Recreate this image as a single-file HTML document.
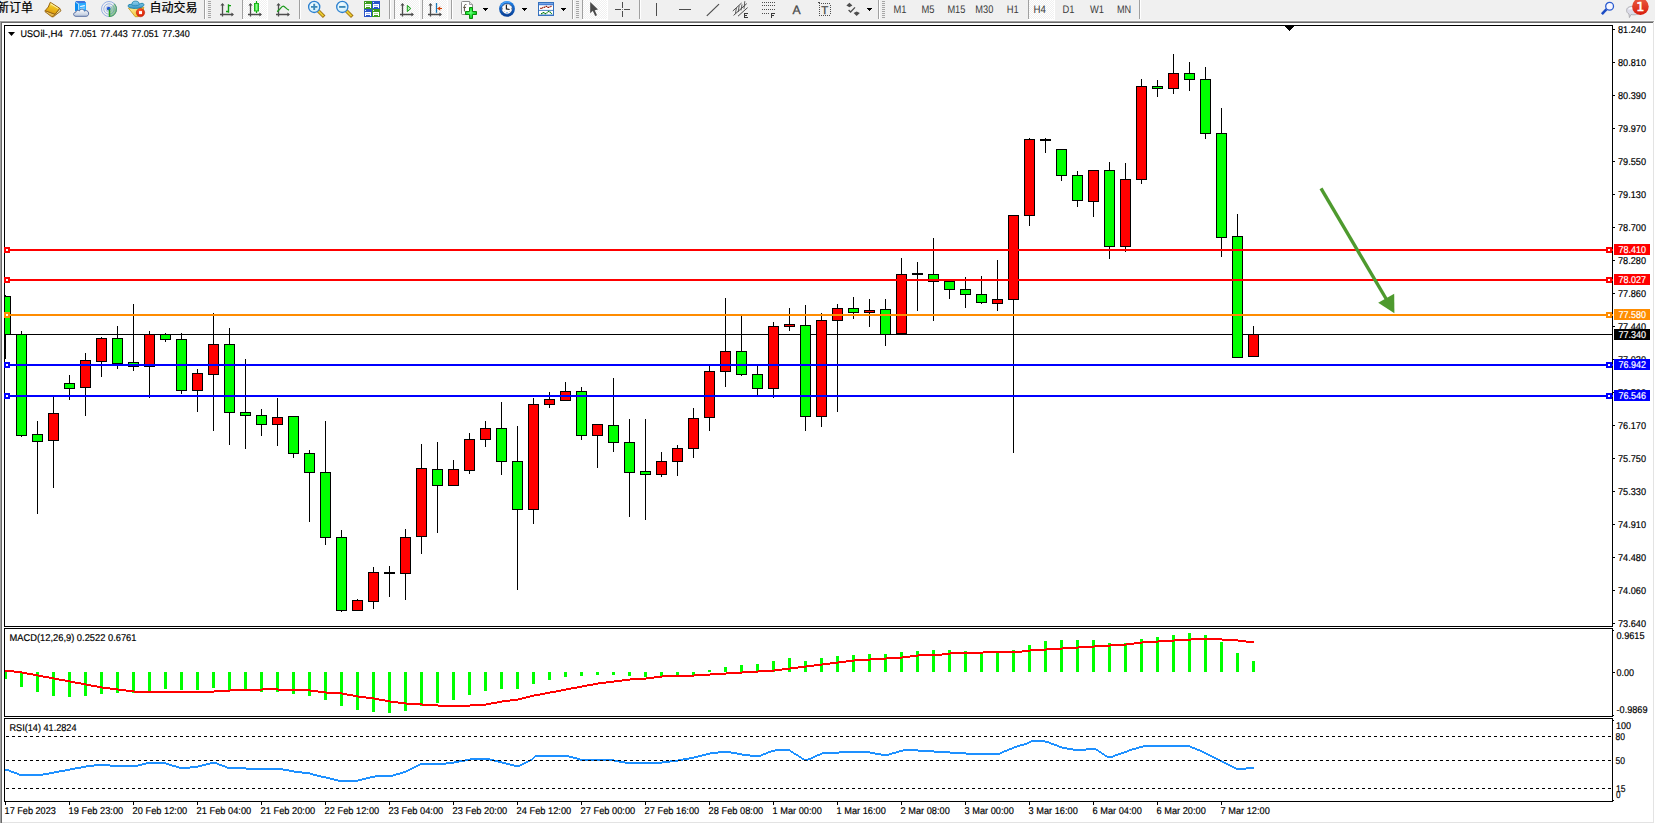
<!DOCTYPE html>
<html lang="zh-CN">
<head>
<meta charset="utf-8">
<title>USOil-,H4</title>
<style>
html,body{margin:0;padding:0;background:#f0f0f0;overflow:hidden}
body{width:1655px;height:824px;position:relative;font-family:"Liberation Sans", "Noto Sans CJK SC", sans-serif}
svg{position:absolute;left:0;top:0;display:block}
text{white-space:pre}
</style>
</head>
<body>
<svg width="1655" height="824" viewBox="0 0 1655 824">
<rect x="0" y="0" width="1655" height="824" fill="#f0f0f0"/>
<g shape-rendering="crispEdges">
<rect x="0" y="20" width="1655" height="1" fill="#f8f8f8"/>
<rect x="0" y="21" width="1654" height="1" fill="#a0a0a0"/>
<rect x="0" y="22" width="1653" height="1" fill="#696969"/>
<rect x="0" y="21" width="1" height="803" fill="#a0a0a0"/>
<rect x="1" y="22" width="1" height="801" fill="#696969"/>
<rect x="1654" y="21" width="1" height="803" fill="#ffffff"/>
<rect x="0" y="823" width="1655" height="1" fill="#ffffff"/>
<rect x="1653" y="22" width="1" height="801" fill="#e3e3e3"/>
<rect x="2" y="822" width="1652" height="1" fill="#e3e3e3"/>
</g>
<g shape-rendering="crispEdges">
<rect x="2" y="23" width="1651" height="799" fill="#fff"/>
<rect x="4" y="25" width="1609" height="1" fill="#000"/>
<rect x="4" y="626" width="1609" height="1" fill="#000"/>
<rect x="4" y="25" width="1" height="602" fill="#000"/>
<rect x="1612" y="25" width="1" height="602" fill="#000"/>
<rect x="4" y="628" width="1609" height="1" fill="#000"/>
<rect x="4" y="716" width="1609" height="1" fill="#000"/>
<rect x="4" y="628" width="1" height="89" fill="#000"/>
<rect x="1612" y="628" width="1" height="89" fill="#000"/>
<rect x="4" y="718" width="1609" height="1" fill="#000"/>
<rect x="4" y="801" width="1609" height="1" fill="#000"/>
<rect x="4" y="718" width="1" height="84" fill="#000"/>
<rect x="1612" y="718" width="1" height="84" fill="#000"/>
<rect x="1285" y="26" width="9" height="1" fill="#000"/>
<rect x="1286" y="27" width="7" height="1" fill="#000"/>
<rect x="1287" y="28" width="5" height="1" fill="#000"/>
<rect x="1288" y="29" width="3" height="1" fill="#000"/>
<rect x="1289" y="30" width="1" height="1" fill="#000"/>
<rect x="4" y="334" width="1609" height="1" fill="#000"/>
<g id="candles">
<rect x="5" y="295" width="1" height="64" fill="#000"/>
<rect x="0" y="296" width="11" height="39" fill="#000"/>
<rect x="1" y="297" width="9" height="37" fill="#00ff00"/>
<rect x="21" y="331" width="1" height="106" fill="#000"/>
<rect x="16" y="334" width="11" height="102" fill="#000"/>
<rect x="17" y="335" width="9" height="100" fill="#00ff00"/>
<rect x="37" y="421" width="1" height="93" fill="#000"/>
<rect x="32" y="434" width="11" height="8" fill="#000"/>
<rect x="33" y="435" width="9" height="6" fill="#00ff00"/>
<rect x="53" y="397" width="1" height="91" fill="#000"/>
<rect x="48" y="413" width="11" height="28" fill="#000"/>
<rect x="49" y="414" width="9" height="26" fill="#ff0000"/>
<rect x="69" y="375" width="1" height="25" fill="#000"/>
<rect x="64" y="383" width="11" height="6" fill="#000"/>
<rect x="65" y="384" width="9" height="4" fill="#00ff00"/>
<rect x="85" y="353" width="1" height="63" fill="#000"/>
<rect x="80" y="360" width="11" height="28" fill="#000"/>
<rect x="81" y="361" width="9" height="26" fill="#ff0000"/>
<rect x="101" y="337" width="1" height="40" fill="#000"/>
<rect x="96" y="338" width="11" height="24" fill="#000"/>
<rect x="97" y="339" width="9" height="22" fill="#ff0000"/>
<rect x="117" y="326" width="1" height="43" fill="#000"/>
<rect x="112" y="338" width="11" height="26" fill="#000"/>
<rect x="113" y="339" width="9" height="24" fill="#00ff00"/>
<rect x="133" y="304" width="1" height="67" fill="#000"/>
<rect x="128" y="362" width="11" height="5" fill="#000"/>
<rect x="129" y="363" width="9" height="3" fill="#00ff00"/>
<rect x="149" y="331" width="1" height="67" fill="#000"/>
<rect x="144" y="334" width="11" height="33" fill="#000"/>
<rect x="145" y="335" width="9" height="31" fill="#ff0000"/>
<rect x="165" y="333" width="1" height="9" fill="#000"/>
<rect x="160" y="334" width="11" height="6" fill="#000"/>
<rect x="161" y="335" width="9" height="4" fill="#00ff00"/>
<rect x="181" y="333" width="1" height="61" fill="#000"/>
<rect x="176" y="339" width="11" height="52" fill="#000"/>
<rect x="177" y="340" width="9" height="50" fill="#00ff00"/>
<rect x="197" y="369" width="1" height="43" fill="#000"/>
<rect x="192" y="373" width="11" height="18" fill="#000"/>
<rect x="193" y="374" width="9" height="16" fill="#ff0000"/>
<rect x="213" y="313" width="1" height="118" fill="#000"/>
<rect x="208" y="344" width="11" height="31" fill="#000"/>
<rect x="209" y="345" width="9" height="29" fill="#ff0000"/>
<rect x="229" y="328" width="1" height="117" fill="#000"/>
<rect x="224" y="344" width="11" height="69" fill="#000"/>
<rect x="225" y="345" width="9" height="67" fill="#00ff00"/>
<rect x="245" y="359" width="1" height="90" fill="#000"/>
<rect x="240" y="412" width="11" height="4" fill="#000"/>
<rect x="241" y="413" width="9" height="2" fill="#00ff00"/>
<rect x="261" y="409" width="1" height="27" fill="#000"/>
<rect x="256" y="415" width="11" height="10" fill="#000"/>
<rect x="257" y="416" width="9" height="8" fill="#00ff00"/>
<rect x="277" y="398" width="1" height="48" fill="#000"/>
<rect x="272" y="417" width="11" height="8" fill="#000"/>
<rect x="273" y="418" width="9" height="6" fill="#ff0000"/>
<rect x="293" y="416" width="1" height="42" fill="#000"/>
<rect x="288" y="416" width="11" height="38" fill="#000"/>
<rect x="289" y="417" width="9" height="36" fill="#00ff00"/>
<rect x="309" y="450" width="1" height="72" fill="#000"/>
<rect x="304" y="453" width="11" height="20" fill="#000"/>
<rect x="305" y="454" width="9" height="18" fill="#00ff00"/>
<rect x="325" y="421" width="1" height="124" fill="#000"/>
<rect x="320" y="472" width="11" height="66" fill="#000"/>
<rect x="321" y="473" width="9" height="64" fill="#00ff00"/>
<rect x="341" y="530" width="1" height="82" fill="#000"/>
<rect x="336" y="537" width="11" height="74" fill="#000"/>
<rect x="337" y="538" width="9" height="72" fill="#00ff00"/>
<rect x="357" y="599" width="1" height="12" fill="#000"/>
<rect x="352" y="600" width="11" height="11" fill="#000"/>
<rect x="353" y="601" width="9" height="9" fill="#ff0000"/>
<rect x="373" y="567" width="1" height="42" fill="#000"/>
<rect x="368" y="572" width="11" height="30" fill="#000"/>
<rect x="369" y="573" width="9" height="28" fill="#ff0000"/>
<rect x="389" y="566" width="1" height="31" fill="#000"/>
<rect x="384" y="572" width="11" height="2" fill="#000"/>
<rect x="405" y="529" width="1" height="71" fill="#000"/>
<rect x="400" y="537" width="11" height="37" fill="#000"/>
<rect x="401" y="538" width="9" height="35" fill="#ff0000"/>
<rect x="421" y="444" width="1" height="110" fill="#000"/>
<rect x="416" y="468" width="11" height="69" fill="#000"/>
<rect x="417" y="469" width="9" height="67" fill="#ff0000"/>
<rect x="437" y="442" width="1" height="91" fill="#000"/>
<rect x="432" y="469" width="11" height="17" fill="#000"/>
<rect x="433" y="470" width="9" height="15" fill="#00ff00"/>
<rect x="453" y="460" width="1" height="26" fill="#000"/>
<rect x="448" y="469" width="11" height="17" fill="#000"/>
<rect x="449" y="470" width="9" height="15" fill="#ff0000"/>
<rect x="469" y="433" width="1" height="41" fill="#000"/>
<rect x="464" y="439" width="11" height="32" fill="#000"/>
<rect x="465" y="440" width="9" height="30" fill="#ff0000"/>
<rect x="485" y="421" width="1" height="26" fill="#000"/>
<rect x="480" y="428" width="11" height="12" fill="#000"/>
<rect x="481" y="429" width="9" height="10" fill="#ff0000"/>
<rect x="501" y="402" width="1" height="73" fill="#000"/>
<rect x="496" y="428" width="11" height="34" fill="#000"/>
<rect x="497" y="429" width="9" height="32" fill="#00ff00"/>
<rect x="517" y="426" width="1" height="164" fill="#000"/>
<rect x="512" y="461" width="11" height="49" fill="#000"/>
<rect x="513" y="462" width="9" height="47" fill="#00ff00"/>
<rect x="533" y="398" width="1" height="126" fill="#000"/>
<rect x="528" y="404" width="11" height="106" fill="#000"/>
<rect x="529" y="405" width="9" height="104" fill="#ff0000"/>
<rect x="549" y="392" width="1" height="16" fill="#000"/>
<rect x="544" y="399" width="11" height="6" fill="#000"/>
<rect x="545" y="400" width="9" height="4" fill="#ff0000"/>
<rect x="565" y="382" width="1" height="19" fill="#000"/>
<rect x="560" y="391" width="11" height="10" fill="#000"/>
<rect x="561" y="392" width="9" height="8" fill="#ff0000"/>
<rect x="581" y="387" width="1" height="53" fill="#000"/>
<rect x="576" y="391" width="11" height="45" fill="#000"/>
<rect x="577" y="392" width="9" height="43" fill="#00ff00"/>
<rect x="597" y="424" width="1" height="44" fill="#000"/>
<rect x="592" y="424" width="11" height="12" fill="#000"/>
<rect x="593" y="425" width="9" height="10" fill="#ff0000"/>
<rect x="613" y="378" width="1" height="74" fill="#000"/>
<rect x="608" y="425" width="11" height="18" fill="#000"/>
<rect x="609" y="426" width="9" height="16" fill="#00ff00"/>
<rect x="629" y="419" width="1" height="98" fill="#000"/>
<rect x="624" y="442" width="11" height="31" fill="#000"/>
<rect x="625" y="443" width="9" height="29" fill="#00ff00"/>
<rect x="645" y="419" width="1" height="101" fill="#000"/>
<rect x="640" y="471" width="11" height="4" fill="#000"/>
<rect x="641" y="472" width="9" height="2" fill="#00ff00"/>
<rect x="661" y="452" width="1" height="25" fill="#000"/>
<rect x="656" y="461" width="11" height="14" fill="#000"/>
<rect x="657" y="462" width="9" height="12" fill="#ff0000"/>
<rect x="677" y="445" width="1" height="31" fill="#000"/>
<rect x="672" y="448" width="11" height="14" fill="#000"/>
<rect x="673" y="449" width="9" height="12" fill="#ff0000"/>
<rect x="693" y="408" width="1" height="50" fill="#000"/>
<rect x="688" y="418" width="11" height="31" fill="#000"/>
<rect x="689" y="419" width="9" height="29" fill="#ff0000"/>
<rect x="709" y="366" width="1" height="65" fill="#000"/>
<rect x="704" y="371" width="11" height="47" fill="#000"/>
<rect x="705" y="372" width="9" height="45" fill="#ff0000"/>
<rect x="725" y="298" width="1" height="89" fill="#000"/>
<rect x="720" y="351" width="11" height="21" fill="#000"/>
<rect x="721" y="352" width="9" height="19" fill="#ff0000"/>
<rect x="741" y="316" width="1" height="60" fill="#000"/>
<rect x="736" y="351" width="11" height="24" fill="#000"/>
<rect x="737" y="352" width="9" height="22" fill="#00ff00"/>
<rect x="757" y="366" width="1" height="29" fill="#000"/>
<rect x="752" y="374" width="11" height="15" fill="#000"/>
<rect x="753" y="375" width="9" height="13" fill="#00ff00"/>
<rect x="773" y="322" width="1" height="76" fill="#000"/>
<rect x="768" y="326" width="11" height="63" fill="#000"/>
<rect x="769" y="327" width="9" height="61" fill="#ff0000"/>
<rect x="789" y="308" width="1" height="23" fill="#000"/>
<rect x="784" y="324" width="11" height="3" fill="#000"/>
<rect x="785" y="325" width="9" height="1" fill="#ff0000"/>
<rect x="805" y="305" width="1" height="126" fill="#000"/>
<rect x="800" y="325" width="11" height="92" fill="#000"/>
<rect x="801" y="326" width="9" height="90" fill="#00ff00"/>
<rect x="821" y="313" width="1" height="114" fill="#000"/>
<rect x="816" y="320" width="11" height="97" fill="#000"/>
<rect x="817" y="321" width="9" height="95" fill="#ff0000"/>
<rect x="837" y="304" width="1" height="108" fill="#000"/>
<rect x="832" y="308" width="11" height="13" fill="#000"/>
<rect x="833" y="309" width="9" height="11" fill="#ff0000"/>
<rect x="853" y="297" width="1" height="22" fill="#000"/>
<rect x="848" y="308" width="11" height="5" fill="#000"/>
<rect x="849" y="309" width="9" height="3" fill="#00ff00"/>
<rect x="869" y="299" width="1" height="28" fill="#000"/>
<rect x="864" y="310" width="11" height="3" fill="#000"/>
<rect x="865" y="311" width="9" height="1" fill="#ff0000"/>
<rect x="885" y="299" width="1" height="47" fill="#000"/>
<rect x="880" y="309" width="11" height="26" fill="#000"/>
<rect x="881" y="310" width="9" height="24" fill="#00ff00"/>
<rect x="901" y="258" width="1" height="76" fill="#000"/>
<rect x="896" y="274" width="11" height="60" fill="#000"/>
<rect x="897" y="275" width="9" height="58" fill="#ff0000"/>
<rect x="917" y="262" width="1" height="49" fill="#000"/>
<rect x="912" y="273" width="11" height="2" fill="#000"/>
<rect x="933" y="238" width="1" height="83" fill="#000"/>
<rect x="928" y="274" width="11" height="8" fill="#000"/>
<rect x="929" y="275" width="9" height="6" fill="#00ff00"/>
<rect x="949" y="281" width="1" height="18" fill="#000"/>
<rect x="944" y="281" width="11" height="9" fill="#000"/>
<rect x="945" y="282" width="9" height="7" fill="#00ff00"/>
<rect x="965" y="277" width="1" height="31" fill="#000"/>
<rect x="960" y="289" width="11" height="6" fill="#000"/>
<rect x="961" y="290" width="9" height="4" fill="#00ff00"/>
<rect x="981" y="276" width="1" height="28" fill="#000"/>
<rect x="976" y="294" width="11" height="9" fill="#000"/>
<rect x="977" y="295" width="9" height="7" fill="#00ff00"/>
<rect x="997" y="260" width="1" height="51" fill="#000"/>
<rect x="992" y="299" width="11" height="5" fill="#000"/>
<rect x="993" y="300" width="9" height="3" fill="#ff0000"/>
<rect x="1013" y="215" width="1" height="238" fill="#000"/>
<rect x="1008" y="215" width="11" height="85" fill="#000"/>
<rect x="1009" y="216" width="9" height="83" fill="#ff0000"/>
<rect x="1029" y="138" width="1" height="88" fill="#000"/>
<rect x="1024" y="139" width="11" height="77" fill="#000"/>
<rect x="1025" y="140" width="9" height="75" fill="#ff0000"/>
<rect x="1045" y="138" width="1" height="15" fill="#000"/>
<rect x="1040" y="139" width="11" height="2" fill="#000"/>
<rect x="1061" y="149" width="1" height="32" fill="#000"/>
<rect x="1056" y="149" width="11" height="27" fill="#000"/>
<rect x="1057" y="150" width="9" height="25" fill="#00ff00"/>
<rect x="1077" y="171" width="1" height="36" fill="#000"/>
<rect x="1072" y="175" width="11" height="26" fill="#000"/>
<rect x="1073" y="176" width="9" height="24" fill="#00ff00"/>
<rect x="1093" y="170" width="1" height="47" fill="#000"/>
<rect x="1088" y="170" width="11" height="32" fill="#000"/>
<rect x="1089" y="171" width="9" height="30" fill="#ff0000"/>
<rect x="1109" y="162" width="1" height="97" fill="#000"/>
<rect x="1104" y="170" width="11" height="77" fill="#000"/>
<rect x="1105" y="171" width="9" height="75" fill="#00ff00"/>
<rect x="1125" y="163" width="1" height="89" fill="#000"/>
<rect x="1120" y="179" width="11" height="68" fill="#000"/>
<rect x="1121" y="180" width="9" height="66" fill="#ff0000"/>
<rect x="1141" y="79" width="1" height="105" fill="#000"/>
<rect x="1136" y="86" width="11" height="94" fill="#000"/>
<rect x="1137" y="87" width="9" height="92" fill="#ff0000"/>
<rect x="1157" y="80" width="1" height="17" fill="#000"/>
<rect x="1152" y="86" width="11" height="3" fill="#000"/>
<rect x="1153" y="87" width="9" height="1" fill="#00ff00"/>
<rect x="1173" y="54" width="1" height="40" fill="#000"/>
<rect x="1168" y="73" width="11" height="16" fill="#000"/>
<rect x="1169" y="74" width="9" height="14" fill="#ff0000"/>
<rect x="1189" y="62" width="1" height="29" fill="#000"/>
<rect x="1184" y="73" width="11" height="7" fill="#000"/>
<rect x="1185" y="74" width="9" height="5" fill="#00ff00"/>
<rect x="1205" y="67" width="1" height="72" fill="#000"/>
<rect x="1200" y="79" width="11" height="55" fill="#000"/>
<rect x="1201" y="80" width="9" height="53" fill="#00ff00"/>
<rect x="1221" y="108" width="1" height="149" fill="#000"/>
<rect x="1216" y="133" width="11" height="105" fill="#000"/>
<rect x="1217" y="134" width="9" height="103" fill="#00ff00"/>
<rect x="1237" y="214" width="1" height="144" fill="#000"/>
<rect x="1232" y="236" width="11" height="122" fill="#000"/>
<rect x="1233" y="237" width="9" height="120" fill="#00ff00"/>
<rect x="1253" y="326" width="1" height="31" fill="#000"/>
<rect x="1248" y="334" width="11" height="23" fill="#000"/>
<rect x="1249" y="335" width="9" height="21" fill="#ff0000"/>
</g>
<rect x="2" y="26" width="2" height="600" fill="#fff"/>
<rect x="0" y="26" width="1" height="600" fill="#a0a0a0"/>
<rect x="1" y="26" width="1" height="600" fill="#696969"/>
<rect x="4" y="25" width="1" height="602" fill="#000"/>
<rect x="4" y="249" width="1609" height="2" fill="#ff0000"/>
<rect x="4" y="247" width="6" height="6" fill="#ff0000"/>
<rect x="6" y="249" width="2" height="2" fill="#fff"/>
<rect x="1606" y="247" width="6" height="6" fill="#ff0000"/>
<rect x="1608" y="249" width="2" height="2" fill="#fff"/>
<rect x="4" y="279" width="1609" height="2" fill="#ff0000"/>
<rect x="4" y="277" width="6" height="6" fill="#ff0000"/>
<rect x="6" y="279" width="2" height="2" fill="#fff"/>
<rect x="1606" y="277" width="6" height="6" fill="#ff0000"/>
<rect x="1608" y="279" width="2" height="2" fill="#fff"/>
<rect x="4" y="314" width="1609" height="2" fill="#ff8c00"/>
<rect x="4" y="312" width="6" height="6" fill="#ff8c00"/>
<rect x="6" y="314" width="2" height="2" fill="#fff"/>
<rect x="1606" y="312" width="6" height="6" fill="#ff8c00"/>
<rect x="1608" y="314" width="2" height="2" fill="#fff"/>
<rect x="4" y="364" width="1609" height="2" fill="#0000ff"/>
<rect x="4" y="362" width="6" height="6" fill="#0000ff"/>
<rect x="6" y="364" width="2" height="2" fill="#fff"/>
<rect x="1606" y="362" width="6" height="6" fill="#0000ff"/>
<rect x="1608" y="364" width="2" height="2" fill="#fff"/>
<rect x="4" y="395" width="1609" height="2" fill="#0000ff"/>
<rect x="4" y="393" width="6" height="6" fill="#0000ff"/>
<rect x="6" y="395" width="2" height="2" fill="#fff"/>
<rect x="1606" y="393" width="6" height="6" fill="#0000ff"/>
<rect x="1608" y="395" width="2" height="2" fill="#fff"/>
<g id="macd">
<rect x="4" y="672" width="3" height="7" fill="#00ff00"/>
<rect x="20" y="672" width="3" height="15" fill="#00ff00"/>
<rect x="36" y="672" width="3" height="20" fill="#00ff00"/>
<rect x="52" y="672" width="3" height="24" fill="#00ff00"/>
<rect x="68" y="672" width="3" height="25" fill="#00ff00"/>
<rect x="84" y="672" width="3" height="24" fill="#00ff00"/>
<rect x="100" y="672" width="3" height="22" fill="#00ff00"/>
<rect x="116" y="672" width="3" height="21" fill="#00ff00"/>
<rect x="132" y="672" width="3" height="21" fill="#00ff00"/>
<rect x="148" y="672" width="3" height="19" fill="#00ff00"/>
<rect x="164" y="672" width="3" height="17" fill="#00ff00"/>
<rect x="180" y="672" width="3" height="18" fill="#00ff00"/>
<rect x="196" y="672" width="3" height="18" fill="#00ff00"/>
<rect x="212" y="672" width="3" height="16" fill="#00ff00"/>
<rect x="228" y="672" width="3" height="19" fill="#00ff00"/>
<rect x="244" y="672" width="3" height="19" fill="#00ff00"/>
<rect x="260" y="672" width="3" height="20" fill="#00ff00"/>
<rect x="276" y="672" width="3" height="20" fill="#00ff00"/>
<rect x="292" y="672" width="3" height="22" fill="#00ff00"/>
<rect x="308" y="672" width="3" height="24" fill="#00ff00"/>
<rect x="324" y="672" width="3" height="28" fill="#00ff00"/>
<rect x="340" y="672" width="3" height="34" fill="#00ff00"/>
<rect x="356" y="672" width="3" height="38" fill="#00ff00"/>
<rect x="372" y="672" width="3" height="40" fill="#00ff00"/>
<rect x="388" y="672" width="3" height="41" fill="#00ff00"/>
<rect x="404" y="672" width="3" height="39" fill="#00ff00"/>
<rect x="420" y="672" width="3" height="34" fill="#00ff00"/>
<rect x="436" y="672" width="3" height="31" fill="#00ff00"/>
<rect x="452" y="672" width="3" height="28" fill="#00ff00"/>
<rect x="468" y="672" width="3" height="23" fill="#00ff00"/>
<rect x="484" y="672" width="3" height="19" fill="#00ff00"/>
<rect x="500" y="672" width="3" height="17" fill="#00ff00"/>
<rect x="516" y="672" width="3" height="17" fill="#00ff00"/>
<rect x="532" y="672" width="3" height="12" fill="#00ff00"/>
<rect x="548" y="672" width="3" height="8" fill="#00ff00"/>
<rect x="564" y="672" width="3" height="5" fill="#00ff00"/>
<rect x="580" y="672" width="3" height="4" fill="#00ff00"/>
<rect x="596" y="672" width="3" height="3" fill="#00ff00"/>
<rect x="612" y="672" width="3" height="3" fill="#00ff00"/>
<rect x="628" y="672" width="3" height="4" fill="#00ff00"/>
<rect x="644" y="672" width="3" height="5" fill="#00ff00"/>
<rect x="660" y="672" width="3" height="4" fill="#00ff00"/>
<rect x="676" y="672" width="3" height="3" fill="#00ff00"/>
<rect x="692" y="672" width="3" height="3" fill="#00ff00"/>
<rect x="708" y="670" width="3" height="2" fill="#00ff00"/>
<rect x="724" y="667" width="3" height="5" fill="#00ff00"/>
<rect x="740" y="665" width="3" height="7" fill="#00ff00"/>
<rect x="756" y="664" width="3" height="8" fill="#00ff00"/>
<rect x="772" y="661" width="3" height="11" fill="#00ff00"/>
<rect x="788" y="658" width="3" height="14" fill="#00ff00"/>
<rect x="804" y="661" width="3" height="11" fill="#00ff00"/>
<rect x="820" y="658" width="3" height="14" fill="#00ff00"/>
<rect x="836" y="656" width="3" height="16" fill="#00ff00"/>
<rect x="852" y="655" width="3" height="17" fill="#00ff00"/>
<rect x="868" y="654" width="3" height="18" fill="#00ff00"/>
<rect x="884" y="654" width="3" height="18" fill="#00ff00"/>
<rect x="900" y="652" width="3" height="20" fill="#00ff00"/>
<rect x="916" y="651" width="3" height="21" fill="#00ff00"/>
<rect x="932" y="650" width="3" height="22" fill="#00ff00"/>
<rect x="948" y="650" width="3" height="22" fill="#00ff00"/>
<rect x="964" y="651" width="3" height="21" fill="#00ff00"/>
<rect x="980" y="653" width="3" height="19" fill="#00ff00"/>
<rect x="996" y="653" width="3" height="19" fill="#00ff00"/>
<rect x="1012" y="650" width="3" height="22" fill="#00ff00"/>
<rect x="1028" y="645" width="3" height="27" fill="#00ff00"/>
<rect x="1044" y="641" width="3" height="31" fill="#00ff00"/>
<rect x="1060" y="640" width="3" height="32" fill="#00ff00"/>
<rect x="1076" y="640" width="3" height="32" fill="#00ff00"/>
<rect x="1092" y="640" width="3" height="32" fill="#00ff00"/>
<rect x="1108" y="643" width="3" height="29" fill="#00ff00"/>
<rect x="1124" y="643" width="3" height="29" fill="#00ff00"/>
<rect x="1140" y="639" width="3" height="33" fill="#00ff00"/>
<rect x="1156" y="637" width="3" height="35" fill="#00ff00"/>
<rect x="1172" y="635" width="3" height="37" fill="#00ff00"/>
<rect x="1188" y="633" width="3" height="39" fill="#00ff00"/>
<rect x="1204" y="635" width="3" height="37" fill="#00ff00"/>
<rect x="1220" y="642" width="3" height="30" fill="#00ff00"/>
<rect x="1236" y="653" width="3" height="19" fill="#00ff00"/>
<rect x="1252" y="661" width="3" height="11" fill="#00ff00"/>
</g>
<path d="M5 670h9v2h-9zM14 671h8v2h-8zM22 672h5v2h-5zM27 673h6v2h-6zM33 674h5v2h-5zM38 675h5v2h-5zM43 676h6v2h-6zM49 677h5v2h-5zM54 678h5v2h-5zM59 679h6v2h-6zM65 680h5v2h-5zM70 681h5v2h-5zM75 682h6v2h-6zM81 683h5v2h-5zM86 684h5v2h-5zM91 685h6v2h-6zM97 686h5v2h-5zM102 687h8v2h-8zM110 688h8v2h-8zM118 689h8v2h-8zM126 690h8v2h-8zM134 691h80v2h-80zM214 690h16v2h-16zM230 689h32v2h-32zM262 688h16v2h-16zM278 689h32v2h-32zM310 690h8v2h-8zM318 691h8v2h-8zM326 692h16v2h-16zM342 693h5v2h-5zM347 694h6v2h-6zM353 695h5v2h-5zM358 696h8v2h-8zM366 697h8v2h-8zM374 698h5v2h-5zM379 699h6v2h-6zM385 700h5v2h-5zM390 701h8v2h-8zM398 702h8v2h-8zM406 703h16v2h-16zM422 704h16v2h-16zM438 705h32v2h-32zM470 704h16v2h-16zM486 703h5v2h-5zM491 702h6v2h-6zM497 701h5v2h-5zM502 700h8v2h-8zM510 699h8v2h-8zM518 698h4v2h-4zM522 697h4v2h-4zM526 696h4v2h-4zM530 695h4v2h-4zM534 694h6v2h-6zM540 693h5v2h-5zM545 692h5v2h-5zM550 691h6v2h-6zM556 690h5v2h-5zM561 689h5v2h-5zM566 688h5v2h-5zM571 687h6v2h-6zM577 686h5v2h-5zM582 685h5v2h-5zM587 684h6v2h-6zM593 683h5v2h-5zM598 682h8v2h-8zM606 681h8v2h-8zM614 680h8v2h-8zM622 679h8v2h-8zM630 678h16v2h-16zM646 677h8v2h-8zM654 676h8v2h-8zM662 675h32v2h-32zM694 674h16v2h-16zM710 673h16v2h-16zM726 672h16v2h-16zM742 671h16v2h-16zM758 670h16v2h-16zM774 669h8v2h-8zM782 668h8v2h-8zM790 667h8v2h-8zM798 666h8v2h-8zM806 665h8v2h-8zM814 664h8v2h-8zM822 663h8v2h-8zM830 662h8v2h-8zM838 661h8v2h-8zM846 660h8v2h-8zM854 659h16v2h-16zM870 658h16v2h-16zM886 657h16v2h-16zM902 656h8v2h-8zM910 655h8v2h-8zM918 654h24v2h-24zM942 653h8v2h-8zM950 652h33v2h-33zM983 651h39v2h-39zM1022 650h8v2h-8zM1030 649h16v2h-16zM1046 648h16v2h-16zM1062 647h16v2h-16zM1078 646h16v2h-16zM1094 645h16v2h-16zM1110 644h16v2h-16zM1126 643h8v2h-8zM1134 642h8v2h-8zM1142 641h16v2h-16zM1158 640h16v2h-16zM1174 639h17v2h-17zM1191 638h31v2h-31zM1222 639h16v2h-16zM1238 640h8v2h-8zM1246 641h8v2h-8z" fill="#ff0000"/>
<path d="M5 769h4v2h-4zM9 770h2v2h-2zM11 771h3v2h-3zM14 772h3v2h-3zM17 773h2v2h-2zM19 774h24v2h-24zM43 773h6v2h-6zM49 772h5v2h-5zM54 771h5v2h-5zM59 770h6v2h-6zM65 769h5v2h-5zM70 768h5v2h-5zM75 767h6v2h-6zM81 766h5v2h-5zM86 765h8v2h-8zM94 764h16v2h-16zM110 765h28v2h-28zM138 764h4v2h-4zM142 763h4v2h-4zM146 762h20v2h-20zM166 763h3v2h-3zM169 764h3v2h-3zM172 765h4v2h-4zM176 766h3v2h-3zM179 767h11v2h-11zM190 766h8v2h-8zM198 765h4v2h-4zM202 764h4v2h-4zM206 763h4v2h-4zM210 762h7v2h-7zM217 763h2v2h-2zM219 764h3v2h-3zM222 765h3v2h-3zM225 766h2v2h-2zM227 767h19v2h-19zM246 768h37v2h-37zM283 769h6v2h-6zM289 770h5v2h-5zM294 771h8v2h-8zM302 772h8v2h-8zM310 773h3v2h-3zM313 774h4v2h-4zM317 775h4v2h-4zM321 776h5v2h-5zM326 777h4v2h-4zM330 778h4v2h-4zM334 779h4v2h-4zM338 780h20v2h-20zM358 779h4v2h-4zM362 778h4v2h-4zM366 777h4v2h-4zM370 776h5v2h-5zM375 775h18v2h-18zM393 774h3v2h-3zM396 773h4v2h-4zM400 772h3v2h-3zM403 771h3v2h-3zM406 770h2v2h-2zM408 769h2v2h-2zM410 768h2v2h-2zM412 767h2v2h-2zM414 766h2v2h-2zM416 765h2v2h-2zM418 764h2v2h-2zM420 763h26v2h-26zM446 762h8v2h-8zM454 761h5v2h-5zM459 760h6v2h-6zM465 759h5v2h-5zM470 758h20v2h-20zM490 759h4v2h-4zM494 760h4v2h-4zM498 761h4v2h-4zM502 762h4v2h-4zM506 763h4v2h-4zM510 764h4v2h-4zM514 765h6v2h-6zM520 764h2v2h-2zM522 763h2v2h-2zM524 762h2v2h-2zM526 761h2v2h-2zM528 760h2v2h-2zM530 759h2v2h-2zM532 758h1v2h-1zM533 757h1v2h-1zM534 756h1v2h-1zM535 755h34v2h-34zM569 756h4v2h-4zM573 757h4v2h-4zM577 758h3v2h-3zM580 759h34v2h-34zM614 760h5v2h-5zM619 761h6v2h-6zM625 762h37v2h-37zM662 761h8v2h-8zM670 760h8v2h-8zM678 759h5v2h-5zM683 758h6v2h-6zM689 757h5v2h-5zM694 756h4v2h-4zM698 755h4v2h-4zM702 754h4v2h-4zM706 753h4v2h-4zM710 752h8v2h-8zM718 751h13v2h-13zM731 752h6v2h-6zM737 753h5v2h-5zM742 754h8v2h-8zM750 755h11v2h-11zM761 754h2v2h-2zM763 753h3v2h-3zM766 752h2v2h-2zM768 751h3v2h-3zM771 750h4v2h-4zM775 749h15v2h-15zM790 750h1v2h-1zM791 751h2v2h-2zM793 752h1v2h-1zM794 753h2v2h-2zM796 754h2v2h-2zM798 755h1v2h-1zM799 756h2v2h-2zM801 757h1v2h-1zM802 758h2v2h-2zM804 759h4v2h-4zM808 758h3v2h-3zM811 757h2v2h-2zM813 756h2v2h-2zM815 755h2v2h-2zM817 754h3v2h-3zM820 753h2v2h-2zM822 752h17v2h-17zM839 751h31v2h-31zM870 752h5v2h-5zM875 753h6v2h-6zM881 754h8v2h-8zM889 753h3v2h-3zM892 752h4v2h-4zM896 751h3v2h-3zM899 750h4v2h-4zM903 749h15v2h-15zM918 750h16v2h-16zM934 751h16v2h-16zM950 752h16v2h-16zM966 753h34v2h-34zM1000 752h2v2h-2zM1002 751h2v2h-2zM1004 750h3v2h-3zM1007 749h2v2h-2zM1009 748h3v2h-3zM1012 747h2v2h-2zM1014 746h3v2h-3zM1017 745h3v2h-3zM1020 744h4v2h-4zM1024 743h3v2h-3zM1027 742h2v2h-2zM1029 741h2v2h-2zM1031 740h14v2h-14zM1045 741h4v2h-4zM1049 742h2v2h-2zM1051 743h3v2h-3zM1054 744h3v2h-3zM1057 745h2v2h-2zM1059 746h3v2h-3zM1062 747h5v2h-5zM1067 748h6v2h-6zM1073 749h13v2h-13zM1086 748h10v2h-10zM1096 749h2v2h-2zM1098 750h1v2h-1zM1099 751h2v2h-2zM1101 752h1v2h-1zM1102 753h2v2h-2zM1104 754h1v2h-1zM1105 755h2v2h-2zM1107 756h6v2h-6zM1113 755h2v2h-2zM1115 754h3v2h-3zM1118 753h3v2h-3zM1121 752h3v2h-3zM1124 751h3v2h-3zM1127 750h2v2h-2zM1129 749h3v2h-3zM1132 748h4v2h-4zM1136 747h3v2h-3zM1139 746h4v2h-4zM1143 745h47v2h-47zM1190 746h2v2h-2zM1192 747h3v2h-3zM1195 748h2v2h-2zM1197 749h3v2h-3zM1200 750h2v2h-2zM1202 751h2v2h-2zM1204 752h2v2h-2zM1206 753h2v2h-2zM1208 754h2v2h-2zM1210 755h2v2h-2zM1212 756h2v2h-2zM1214 757h2v2h-2zM1216 758h2v2h-2zM1218 759h2v2h-2zM1220 760h2v2h-2zM1222 761h2v2h-2zM1224 762h2v2h-2zM1226 763h2v2h-2zM1228 764h2v2h-2zM1230 765h2v2h-2zM1232 766h2v2h-2zM1234 767h2v2h-2zM1236 768h10v2h-10zM1246 767h8v2h-8z" fill="#1e90ff"/>
<line x1="6" y1="736.5" x2="1611" y2="736.5" stroke="#000" stroke-width="1" stroke-dasharray="3 3"/>
<line x1="6" y1="760.5" x2="1611" y2="760.5" stroke="#000" stroke-width="1" stroke-dasharray="3 3"/>
<line x1="6" y1="788.5" x2="1611" y2="788.5" stroke="#000" stroke-width="1" stroke-dasharray="3 3"/>
<rect x="2" y="628" width="2" height="173" fill="#fff"/>
<rect x="4" y="628" width="1" height="89" fill="#000"/>
<rect x="4" y="718" width="1" height="84" fill="#000"/>
<rect x="1613" y="29" width="2" height="1" fill="#000"/>
<rect x="1613" y="62" width="2" height="1" fill="#000"/>
<rect x="1613" y="95" width="2" height="1" fill="#000"/>
<rect x="1613" y="128" width="2" height="1" fill="#000"/>
<rect x="1613" y="161" width="2" height="1" fill="#000"/>
<rect x="1613" y="194" width="2" height="1" fill="#000"/>
<rect x="1613" y="227" width="2" height="1" fill="#000"/>
<rect x="1613" y="260" width="2" height="1" fill="#000"/>
<rect x="1613" y="293" width="2" height="1" fill="#000"/>
<rect x="1613" y="326" width="2" height="1" fill="#000"/>
<rect x="1613" y="359" width="2" height="1" fill="#000"/>
<rect x="1613" y="392" width="2" height="1" fill="#000"/>
<rect x="1613" y="425" width="2" height="1" fill="#000"/>
<rect x="1613" y="458" width="2" height="1" fill="#000"/>
<rect x="1613" y="491" width="2" height="1" fill="#000"/>
<rect x="1613" y="524" width="2" height="1" fill="#000"/>
<rect x="1613" y="557" width="2" height="1" fill="#000"/>
<rect x="1613" y="590" width="2" height="1" fill="#000"/>
<rect x="1613" y="623" width="2" height="1" fill="#000"/>
<rect x="1613" y="630" width="1" height="1" fill="#000"/>
<rect x="1613" y="672" width="2" height="1" fill="#000"/>
<rect x="1613" y="715" width="1" height="1" fill="#000"/>
<rect x="1613" y="720" width="1" height="1" fill="#000"/>
<rect x="1613" y="800" width="1" height="1" fill="#000"/>
<rect x="5" y="802" width="1" height="3" fill="#000"/>
<rect x="69" y="802" width="1" height="3" fill="#000"/>
<rect x="133" y="802" width="1" height="3" fill="#000"/>
<rect x="197" y="802" width="1" height="3" fill="#000"/>
<rect x="261" y="802" width="1" height="3" fill="#000"/>
<rect x="325" y="802" width="1" height="3" fill="#000"/>
<rect x="389" y="802" width="1" height="3" fill="#000"/>
<rect x="453" y="802" width="1" height="3" fill="#000"/>
<rect x="517" y="802" width="1" height="3" fill="#000"/>
<rect x="581" y="802" width="1" height="3" fill="#000"/>
<rect x="645" y="802" width="1" height="3" fill="#000"/>
<rect x="709" y="802" width="1" height="3" fill="#000"/>
<rect x="773" y="802" width="1" height="3" fill="#000"/>
<rect x="837" y="802" width="1" height="3" fill="#000"/>
<rect x="901" y="802" width="1" height="3" fill="#000"/>
<rect x="965" y="802" width="1" height="3" fill="#000"/>
<rect x="1029" y="802" width="1" height="3" fill="#000"/>
<rect x="1093" y="802" width="1" height="3" fill="#000"/>
<rect x="1157" y="802" width="1" height="3" fill="#000"/>
<rect x="1221" y="802" width="1" height="3" fill="#000"/>
</g>
<g id="arrow">
<line x1="1321" y1="188.4" x2="1388" y2="302" stroke="#4e9a2e" stroke-width="3.4"/>
<polygon points="1394.4,313.2 1378.2,302.8 1394.2,293.8" fill="#4e9a2e"/>
</g>
<g font-family='"Liberation Sans", "Noto Sans CJK SC", sans-serif' text-rendering="geometricPrecision" stroke-width="0.18">
<text x="1618" y="33" font-size="9.85" fill="#000" stroke="#000" text-anchor="start" textLength="28" lengthAdjust="spacingAndGlyphs">81.240</text>
<text x="1618" y="66" font-size="9.85" fill="#000" stroke="#000" text-anchor="start" textLength="28" lengthAdjust="spacingAndGlyphs">80.810</text>
<text x="1618" y="99" font-size="9.85" fill="#000" stroke="#000" text-anchor="start" textLength="28" lengthAdjust="spacingAndGlyphs">80.390</text>
<text x="1618" y="132" font-size="9.85" fill="#000" stroke="#000" text-anchor="start" textLength="28" lengthAdjust="spacingAndGlyphs">79.970</text>
<text x="1618" y="165" font-size="9.85" fill="#000" stroke="#000" text-anchor="start" textLength="28" lengthAdjust="spacingAndGlyphs">79.550</text>
<text x="1618" y="198" font-size="9.85" fill="#000" stroke="#000" text-anchor="start" textLength="28" lengthAdjust="spacingAndGlyphs">79.130</text>
<text x="1618" y="231" font-size="9.85" fill="#000" stroke="#000" text-anchor="start" textLength="28" lengthAdjust="spacingAndGlyphs">78.700</text>
<text x="1618" y="264" font-size="9.85" fill="#000" stroke="#000" text-anchor="start" textLength="28" lengthAdjust="spacingAndGlyphs">78.280</text>
<text x="1618" y="297" font-size="9.85" fill="#000" stroke="#000" text-anchor="start" textLength="28" lengthAdjust="spacingAndGlyphs">77.860</text>
<text x="1618" y="330" font-size="9.85" fill="#000" stroke="#000" text-anchor="start" textLength="28" lengthAdjust="spacingAndGlyphs">77.440</text>
<text x="1618" y="363" font-size="9.85" fill="#000" stroke="#000" text-anchor="start" textLength="28" lengthAdjust="spacingAndGlyphs">77.020</text>
<text x="1618" y="396" font-size="9.85" fill="#000" stroke="#000" text-anchor="start" textLength="28" lengthAdjust="spacingAndGlyphs">76.590</text>
<text x="1618" y="429" font-size="9.85" fill="#000" stroke="#000" text-anchor="start" textLength="28" lengthAdjust="spacingAndGlyphs">76.170</text>
<text x="1618" y="462" font-size="9.85" fill="#000" stroke="#000" text-anchor="start" textLength="28" lengthAdjust="spacingAndGlyphs">75.750</text>
<text x="1618" y="495" font-size="9.85" fill="#000" stroke="#000" text-anchor="start" textLength="28" lengthAdjust="spacingAndGlyphs">75.330</text>
<text x="1618" y="528" font-size="9.85" fill="#000" stroke="#000" text-anchor="start" textLength="28" lengthAdjust="spacingAndGlyphs">74.910</text>
<text x="1618" y="561" font-size="9.85" fill="#000" stroke="#000" text-anchor="start" textLength="28" lengthAdjust="spacingAndGlyphs">74.480</text>
<text x="1618" y="594" font-size="9.85" fill="#000" stroke="#000" text-anchor="start" textLength="28" lengthAdjust="spacingAndGlyphs">74.060</text>
<text x="1618" y="627" font-size="9.85" fill="#000" stroke="#000" text-anchor="start" textLength="28" lengthAdjust="spacingAndGlyphs">73.640</text>
<g shape-rendering="crispEdges">
<rect x="1614" y="244" width="36" height="11" fill="#ff0000"/>
<rect x="1614" y="274" width="36" height="11" fill="#ff0000"/>
<rect x="1614" y="309" width="36" height="11" fill="#ff8c00"/>
<rect x="1614" y="329" width="36" height="11" fill="#000"/>
<rect x="1614" y="359" width="36" height="11" fill="#0000ff"/>
<rect x="1614" y="390" width="36" height="11" fill="#0000ff"/>
</g>
<text x="1618.5" y="253" font-size="9.85" fill="#fff" stroke="#fff" text-anchor="start" textLength="27.5" lengthAdjust="spacingAndGlyphs">78.410</text>
<text x="1618.5" y="283" font-size="9.85" fill="#fff" stroke="#fff" text-anchor="start" textLength="27.5" lengthAdjust="spacingAndGlyphs">78.027</text>
<text x="1618.5" y="318" font-size="9.85" fill="#fff" stroke="#fff" text-anchor="start" textLength="27.5" lengthAdjust="spacingAndGlyphs">77.580</text>
<text x="1618.5" y="338" font-size="9.85" fill="#fff" stroke="#fff" text-anchor="start" textLength="27.5" lengthAdjust="spacingAndGlyphs">77.340</text>
<text x="1618.5" y="368" font-size="9.85" fill="#fff" stroke="#fff" text-anchor="start" textLength="27.5" lengthAdjust="spacingAndGlyphs">76.942</text>
<text x="1618.5" y="399" font-size="9.85" fill="#fff" stroke="#fff" text-anchor="start" textLength="27.5" lengthAdjust="spacingAndGlyphs">76.546</text>
<text x="1616.5" y="639" font-size="9.85" fill="#000" stroke="#000" text-anchor="start" textLength="28" lengthAdjust="spacingAndGlyphs">0.9615</text>
<text x="1616.5" y="676" font-size="9.85" fill="#000" stroke="#000" text-anchor="start" textLength="17.5" lengthAdjust="spacingAndGlyphs">0.00</text>
<text x="1616.5" y="713" font-size="9.85" fill="#000" stroke="#000" text-anchor="start" textLength="31" lengthAdjust="spacingAndGlyphs">-0.9869</text>
<text x="1616" y="729" font-size="9.85" fill="#000" stroke="#000" text-anchor="start" textLength="15" lengthAdjust="spacingAndGlyphs">100</text>
<text x="1615.5" y="740" font-size="9.85" fill="#000" stroke="#000" text-anchor="start" textLength="9.5" lengthAdjust="spacingAndGlyphs">80</text>
<text x="1615.5" y="764" font-size="9.85" fill="#000" stroke="#000" text-anchor="start" textLength="9.5" lengthAdjust="spacingAndGlyphs">50</text>
<text x="1616" y="798" font-size="9.85" fill="#000" stroke="#000" text-anchor="start" textLength="4.6" lengthAdjust="spacingAndGlyphs">0</text>
<rect x="1615" y="784" width="13" height="8" fill="#fff"/>
<text x="1616" y="792" font-size="9.85" fill="#000" stroke="#000" text-anchor="start" textLength="9.5" lengthAdjust="spacingAndGlyphs">15</text>
<text x="4.6" y="814" font-size="9.85" fill="#000" stroke="#000" text-anchor="start" textLength="51.2" lengthAdjust="spacingAndGlyphs">17 Feb 2023</text>
<text x="68.6" y="814" font-size="9.85" fill="#000" stroke="#000" text-anchor="start" textLength="54.6" lengthAdjust="spacingAndGlyphs">19 Feb 23:00</text>
<text x="132.6" y="814" font-size="9.85" fill="#000" stroke="#000" text-anchor="start" textLength="54.6" lengthAdjust="spacingAndGlyphs">20 Feb 12:00</text>
<text x="196.6" y="814" font-size="9.85" fill="#000" stroke="#000" text-anchor="start" textLength="54.6" lengthAdjust="spacingAndGlyphs">21 Feb 04:00</text>
<text x="260.6" y="814" font-size="9.85" fill="#000" stroke="#000" text-anchor="start" textLength="54.6" lengthAdjust="spacingAndGlyphs">21 Feb 20:00</text>
<text x="324.6" y="814" font-size="9.85" fill="#000" stroke="#000" text-anchor="start" textLength="54.6" lengthAdjust="spacingAndGlyphs">22 Feb 12:00</text>
<text x="388.6" y="814" font-size="9.85" fill="#000" stroke="#000" text-anchor="start" textLength="54.6" lengthAdjust="spacingAndGlyphs">23 Feb 04:00</text>
<text x="452.6" y="814" font-size="9.85" fill="#000" stroke="#000" text-anchor="start" textLength="54.6" lengthAdjust="spacingAndGlyphs">23 Feb 20:00</text>
<text x="516.6" y="814" font-size="9.85" fill="#000" stroke="#000" text-anchor="start" textLength="54.6" lengthAdjust="spacingAndGlyphs">24 Feb 12:00</text>
<text x="580.6" y="814" font-size="9.85" fill="#000" stroke="#000" text-anchor="start" textLength="54.6" lengthAdjust="spacingAndGlyphs">27 Feb 00:00</text>
<text x="644.6" y="814" font-size="9.85" fill="#000" stroke="#000" text-anchor="start" textLength="54.6" lengthAdjust="spacingAndGlyphs">27 Feb 16:00</text>
<text x="708.6" y="814" font-size="9.85" fill="#000" stroke="#000" text-anchor="start" textLength="54.6" lengthAdjust="spacingAndGlyphs">28 Feb 08:00</text>
<text x="772.6" y="814" font-size="9.85" fill="#000" stroke="#000" text-anchor="start" textLength="49.2" lengthAdjust="spacingAndGlyphs">1 Mar 00:00</text>
<text x="836.6" y="814" font-size="9.85" fill="#000" stroke="#000" text-anchor="start" textLength="49.2" lengthAdjust="spacingAndGlyphs">1 Mar 16:00</text>
<text x="900.6" y="814" font-size="9.85" fill="#000" stroke="#000" text-anchor="start" textLength="49.2" lengthAdjust="spacingAndGlyphs">2 Mar 08:00</text>
<text x="964.6" y="814" font-size="9.85" fill="#000" stroke="#000" text-anchor="start" textLength="49.2" lengthAdjust="spacingAndGlyphs">3 Mar 00:00</text>
<text x="1028.6" y="814" font-size="9.85" fill="#000" stroke="#000" text-anchor="start" textLength="49.2" lengthAdjust="spacingAndGlyphs">3 Mar 16:00</text>
<text x="1092.6" y="814" font-size="9.85" fill="#000" stroke="#000" text-anchor="start" textLength="49.2" lengthAdjust="spacingAndGlyphs">6 Mar 04:00</text>
<text x="1156.6" y="814" font-size="9.85" fill="#000" stroke="#000" text-anchor="start" textLength="49.2" lengthAdjust="spacingAndGlyphs">6 Mar 20:00</text>
<text x="1220.6" y="814" font-size="9.85" fill="#000" stroke="#000" text-anchor="start" textLength="49.2" lengthAdjust="spacingAndGlyphs">7 Mar 12:00</text>
<polygon points="8,32 15,32 11.5,36" fill="#000"/>
<text x="20.6" y="37" font-size="9.85" fill="#000" stroke="#000"><tspan textLength="19.5" lengthAdjust="spacingAndGlyphs">USO</tspan><tspan x="40.4">i</tspan><tspan x="42.5">l</tspan><tspan x="44.6" textLength="18.2" lengthAdjust="spacingAndGlyphs">-,H4</tspan></text>
<text x="69.2" y="37" font-size="9.85" fill="#000" stroke="#000" text-anchor="start" textLength="27.5" lengthAdjust="spacingAndGlyphs">77.051</text>
<text x="100.25" y="37" font-size="9.85" fill="#000" stroke="#000" text-anchor="start" textLength="27.5" lengthAdjust="spacingAndGlyphs">77.443</text>
<text x="131.3" y="37" font-size="9.85" fill="#000" stroke="#000" text-anchor="start" textLength="27.5" lengthAdjust="spacingAndGlyphs">77.051</text>
<text x="162.35000000000002" y="37" font-size="9.85" fill="#000" stroke="#000" text-anchor="start" textLength="27.5" lengthAdjust="spacingAndGlyphs">77.340</text>
<text x="9.5" y="641" font-size="9.85" fill="#000" stroke="#000" text-anchor="start" textLength="127" lengthAdjust="spacingAndGlyphs">MACD(12,26,9) 0.2522 0.6761</text>
<text x="9.5" y="731" font-size="9.85" fill="#000" stroke="#000" text-anchor="start" textLength="67" lengthAdjust="spacingAndGlyphs">RSI(14) 41.2824</text>
</g>
<defs>
<pattern id="hatch" width="2" height="2" patternUnits="userSpaceOnUse"><rect width="2" height="2" fill="#f0f0f0"/><rect x="0" y="0" width="1" height="1" fill="#fff"/><rect x="1" y="1" width="1" height="1" fill="#fff"/></pattern>
<linearGradient id="gBook" x1="0.6" y1="0" x2="0.3" y2="1"><stop offset="0" stop-color="#fff6a0"/><stop offset="0.4" stop-color="#efc01c"/><stop offset="1" stop-color="#d8940c"/></linearGradient>
<linearGradient id="gSpine" x1="0.6" y1="0" x2="0.3" y2="1"><stop offset="0" stop-color="#fbeaa8"/><stop offset="1" stop-color="#cf9416"/></linearGradient>
<linearGradient id="gCloud" x1="0" y1="0" x2="0" y2="1"><stop offset="0" stop-color="#ffffff"/><stop offset="1" stop-color="#b9c6dc"/></linearGradient>
<linearGradient id="gHat" x1="0" y1="0" x2="0" y2="1"><stop offset="0" stop-color="#8fd0ee"/><stop offset="1" stop-color="#3a98c8"/></linearGradient>
<linearGradient id="gFace" x1="0" y1="0" x2="1" y2="1"><stop offset="0" stop-color="#fff0a0"/><stop offset="1" stop-color="#eebc20"/></linearGradient>
<radialGradient id="gStop" cx="0.4" cy="0.3" r="0.8"><stop offset="0" stop-color="#ff5a30"/><stop offset="1" stop-color="#d01800"/></radialGradient>
<linearGradient id="gBadge" x1="0" y1="0" x2="0" y2="1"><stop offset="0" stop-color="#ea5c40"/><stop offset="1" stop-color="#d81c0c"/></linearGradient>
<linearGradient id="gCandle" x1="0" y1="0" x2="1" y2="0"><stop offset="0" stop-color="#20d020"/><stop offset="0.5" stop-color="#90ff90"/><stop offset="1" stop-color="#20d020"/></linearGradient>
<radialGradient id="gPlus" cx="0.45" cy="0.45" r="0.6"><stop offset="0" stop-color="#70ff80"/><stop offset="0.5" stop-color="#20e838"/><stop offset="1" stop-color="#10b820"/></radialGradient>
<radialGradient id="gLens" cx="0.4" cy="0.35" r="0.8"><stop offset="0" stop-color="#f4fdff"/><stop offset="1" stop-color="#c2e8f8"/></radialGradient>
<linearGradient id="gClock" x1="0" y1="0" x2="0" y2="1"><stop offset="0" stop-color="#1e84ec"/><stop offset="1" stop-color="#063c94"/></linearGradient>
<linearGradient id="gSweep" x1="0" y1="0" x2="1" y2="1"><stop offset="0" stop-color="#d8ecd8"/><stop offset="1" stop-color="#58b058"/></linearGradient>
<linearGradient id="gTpl" x1="0" y1="0" x2="0" y2="1"><stop offset="0" stop-color="#8fb8ee"/><stop offset="1" stop-color="#2a66c8"/></linearGradient>
</defs>
<g id="toolbar">
<g shape-rendering="crispEdges">
<rect x="204" y="0" width="1" height="19" fill="#a0a0a0"/>
<rect x="205" y="0" width="1" height="19" fill="#ffffff"/>
<rect x="299" y="0" width="1" height="19" fill="#a0a0a0"/>
<rect x="300" y="0" width="1" height="19" fill="#ffffff"/>
<rect x="389" y="0" width="1" height="19" fill="#a0a0a0"/>
<rect x="390" y="0" width="1" height="19" fill="#ffffff"/>
<rect x="451" y="0" width="1" height="19" fill="#a0a0a0"/>
<rect x="452" y="0" width="1" height="19" fill="#ffffff"/>
<rect x="572" y="0" width="1" height="19" fill="#a0a0a0"/>
<rect x="573" y="0" width="1" height="19" fill="#ffffff"/>
<rect x="639" y="0" width="1" height="19" fill="#a0a0a0"/>
<rect x="640" y="0" width="1" height="19" fill="#ffffff"/>
<rect x="878" y="0" width="1" height="19" fill="#a0a0a0"/>
<rect x="879" y="0" width="1" height="19" fill="#ffffff"/>
<rect x="1139" y="0" width="1" height="19" fill="#a0a0a0"/>
<rect x="1140" y="0" width="1" height="19" fill="#ffffff"/>
<rect x="208" y="1" width="3" height="1" fill="#a6a6a6"/>
<rect x="208" y="3" width="3" height="1" fill="#a6a6a6"/>
<rect x="208" y="5" width="3" height="1" fill="#a6a6a6"/>
<rect x="208" y="7" width="3" height="1" fill="#a6a6a6"/>
<rect x="208" y="9" width="3" height="1" fill="#a6a6a6"/>
<rect x="208" y="11" width="3" height="1" fill="#a6a6a6"/>
<rect x="208" y="13" width="3" height="1" fill="#a6a6a6"/>
<rect x="208" y="15" width="3" height="1" fill="#a6a6a6"/>
<rect x="208" y="17" width="3" height="1" fill="#a6a6a6"/>
<rect x="576" y="1" width="3" height="1" fill="#a6a6a6"/>
<rect x="576" y="3" width="3" height="1" fill="#a6a6a6"/>
<rect x="576" y="5" width="3" height="1" fill="#a6a6a6"/>
<rect x="576" y="7" width="3" height="1" fill="#a6a6a6"/>
<rect x="576" y="9" width="3" height="1" fill="#a6a6a6"/>
<rect x="576" y="11" width="3" height="1" fill="#a6a6a6"/>
<rect x="576" y="13" width="3" height="1" fill="#a6a6a6"/>
<rect x="576" y="15" width="3" height="1" fill="#a6a6a6"/>
<rect x="576" y="17" width="3" height="1" fill="#a6a6a6"/>
<rect x="882" y="1" width="3" height="1" fill="#a6a6a6"/>
<rect x="882" y="3" width="3" height="1" fill="#a6a6a6"/>
<rect x="882" y="5" width="3" height="1" fill="#a6a6a6"/>
<rect x="882" y="7" width="3" height="1" fill="#a6a6a6"/>
<rect x="882" y="9" width="3" height="1" fill="#a6a6a6"/>
<rect x="882" y="11" width="3" height="1" fill="#a6a6a6"/>
<rect x="882" y="13" width="3" height="1" fill="#a6a6a6"/>
<rect x="882" y="15" width="3" height="1" fill="#a6a6a6"/>
<rect x="882" y="17" width="3" height="1" fill="#a6a6a6"/>
<rect x="243" y="0" width="24" height="19" fill="url(#hatch)"/>
<rect x="242" y="0" width="1" height="19" fill="#a0a0a0"/>
<rect x="267" y="0" width="1" height="20" fill="#ffffff"/>
<rect x="242" y="19" width="25" height="1" fill="#ffffff"/>
<rect x="395" y="0" width="24" height="19" fill="url(#hatch)"/>
<rect x="394" y="0" width="1" height="19" fill="#a0a0a0"/>
<rect x="419" y="0" width="1" height="20" fill="#ffffff"/>
<rect x="394" y="19" width="25" height="1" fill="#ffffff"/>
<rect x="423" y="0" width="24" height="19" fill="url(#hatch)"/>
<rect x="422" y="0" width="1" height="19" fill="#a0a0a0"/>
<rect x="447" y="0" width="1" height="20" fill="#ffffff"/>
<rect x="422" y="19" width="25" height="1" fill="#ffffff"/>
<rect x="583" y="0" width="24" height="19" fill="url(#hatch)"/>
<rect x="582" y="0" width="1" height="19" fill="#a0a0a0"/>
<rect x="607" y="0" width="1" height="20" fill="#ffffff"/>
<rect x="582" y="19" width="25" height="1" fill="#ffffff"/>
<rect x="1029" y="0" width="25" height="19" fill="url(#hatch)"/>
<rect x="1028" y="0" width="1" height="19" fill="#a0a0a0"/>
<rect x="1054" y="0" width="1" height="20" fill="#ffffff"/>
<rect x="1028" y="19" width="26" height="1" fill="#ffffff"/>
</g>
<g font-family='"Liberation Sans", "Noto Sans CJK SC", sans-serif' font-size="12" fill="#000" stroke="#000" stroke-width="0.22">
<text x="-3" y="12.3">新订单</text>
<text x="149.4" y="12.3">自动交易</text>
</g>
<g font-family='"Liberation Sans", sans-serif' font-size="11" fill="#3a3a3a" text-rendering="geometricPrecision">
<text x="893.5" y="13" textLength="13" lengthAdjust="spacingAndGlyphs">M1</text>
<text x="921.4" y="13" textLength="13" lengthAdjust="spacingAndGlyphs">M5</text>
<text x="947.4" y="13" textLength="18" lengthAdjust="spacingAndGlyphs">M15</text>
<text x="975.3" y="13" textLength="18" lengthAdjust="spacingAndGlyphs">M30</text>
<text x="1006.8" y="13" textLength="12" lengthAdjust="spacingAndGlyphs">H1</text>
<text x="1033.6" y="13" textLength="12.3" lengthAdjust="spacingAndGlyphs">H4</text>
<text x="1062.5" y="13" textLength="12" lengthAdjust="spacingAndGlyphs">D1</text>
<text x="1090" y="13" textLength="14" lengthAdjust="spacingAndGlyphs">W1</text>
<text x="1117" y="13" textLength="14.2" lengthAdjust="spacingAndGlyphs">MN</text>
</g>
<g id="ic-book" stroke-linejoin="round">
<path d="M59.7 8.3 L61 10.8 L53.5 16.7 L52 16.7 L55.1 14.3 Z" fill="#e4d89c" stroke="#986410" stroke-width="0.9"/>
<path d="M45.1 10.6 L55.1 14.2 L53 16.7 L51.6 16.7 L45 11.7 Z" fill="url(#gSpine)" stroke="#986410" stroke-width="0.9"/>
<path d="M50.3 2.3 L59.7 8.3 L55.1 14.3 L45.1 10.7 Q48.8 7.6 50.3 2.3 Z" fill="url(#gBook)" stroke="#986410" stroke-width="1"/>
<path d="M51 3.9 L58.4 8.6" stroke="#fffbc0" stroke-width="0.9" fill="none" opacity="0.9"/>
</g>
<g id="ic-cloud">
<path d="M75 2.4 L76.4 1.1 L84.4 1.1 L86 2.9 L86 11 L75 11 Z" fill="#1a9cf4"/>
<path d="M75 2.4 L76.4 1.1 L84.4 1.1 L86 2.9 L78.8 2.9 Z" fill="#3c74dc"/>
<path d="M75 2.4 L78.6 3.6 L78.6 11 L75 11 Z" fill="#0a8cf0"/>
<path d="M78.9 3.2 L86 2.9 L86 11 L78.9 11 Z" fill="#2cacff"/>
<path d="M75.8 2.4 L78.6 3.8 V10" stroke="#e8f8ff" stroke-width="0.8" fill="none"/>
<path d="M80.2 6.5 L84.8 5.7" stroke="#fff" stroke-width="1.2"/>
<path d="M80.4 8.5 L84.8 8" stroke="#b8e4ff" stroke-width="0.9"/>
<path d="M76 16.3 C73 16.3 72.7 12.6 75.8 12.2 C75.6 10.3 78.6 9.6 79.4 11 C80 8.7 83.7 8.5 84.4 11.2 C85.6 10 88.4 10.6 88.6 13 C89 15 87.6 16.3 86 16.3 Z" fill="url(#gCloud)" stroke="#4a6298" stroke-width="0.9"/>
</g>
<g id="ic-signal" fill="none">
<path d="M109 9 L109.3 16.9 A7.9 7.9 0 0 0 114.6 3.4 Z" fill="url(#gSweep)" opacity="0.9"/>
<circle cx="109" cy="9" r="7.5" stroke="#3c6cd4" stroke-width="0.9" opacity="0.55"/>
<circle cx="109" cy="9" r="5.2" stroke="#3c6cd4" stroke-width="0.9" opacity="0.5"/>
<circle cx="109" cy="9" r="3.1" stroke="#5c88dc" stroke-width="0.8" opacity="0.5"/>
<path d="M109.3 16.5 A7.5 7.5 0 0 0 114.3 3.7" stroke="#4a9a5a" stroke-width="1" opacity="0.7"/>
<circle cx="108.7" cy="8.7" r="1.9" fill="#2458d0"/>
<path d="M109.5 9.2 L109.5 16.8" stroke="#22a022" stroke-width="1.5"/>
</g>
<g id="ic-auto">
<path d="M128.4 8 L143.8 7.2 L143 11 L138.2 16.7 L135.2 16.7 Z" fill="url(#gFace)" stroke="#c49414" stroke-width="0.8" stroke-linejoin="round"/>
<path d="M128.1 6.2 C127.8 4.8 129.6 3.9 131.6 4.6 L132.2 3 C132.4 0.6 138.6 0.5 138.9 3 L139.4 4.2 C141 3 143.6 2.9 143.9 4.5 C144 7 139.4 8.4 135.4 8.4 C131.6 8.4 128.5 7.7 128.1 6.2 Z" fill="url(#gHat)" stroke="#1c82aa" stroke-width="0.9" stroke-linejoin="round"/>
<path d="M131.8 5 C133.6 6.2 137.6 6 139.4 4.6" stroke="#1c82aa" stroke-width="0.7" fill="none"/>
<circle cx="140.5" cy="12.6" r="4.2" fill="url(#gStop)" stroke="#b41c04" stroke-width="0.5"/>
<rect x="139" y="11.1" width="3" height="3" fill="#fff"/>
</g>
<g id="ic-bars">
<path d="M222.5 4 V16.6 M220 14.5 H233" stroke="#4d4d4d" stroke-width="1.3" fill="none"/>
<path d="M220.4 5.6 L222.5 3 L224.6 5.6 Z M231.4 12.4 L234 14.5 L231.4 16.6 Z" fill="#4d4d4d"/>
<path d="M228.5 4.2 V12.8 M228.5 5.6 H231 M226 11.5 H228.5" stroke="#10a010" stroke-width="1.4" fill="none"/>
</g>
<g id="ic-candles">
<path d="M250.5 4 V16.6 M248 14.5 H261" stroke="#4d4d4d" stroke-width="1.3" fill="none"/>
<path d="M248.4 5.6 L250.5 3 L252.6 5.6 Z M259.4 12.4 L262 14.5 L259.4 16.6 Z" fill="#4d4d4d"/>
<path d="M256.5 1 V13" stroke="#10a810" stroke-width="1.2"/>
<rect x="254.5" y="3.5" width="4" height="7.5" fill="url(#gCandle)" stroke="#10b010" stroke-width="0.9"/>
</g>
<g id="ic-line">
<path d="M278.5 4 V16.6 M276 14.5 H289" stroke="#4d4d4d" stroke-width="1.3" fill="none"/>
<path d="M276.4 5.6 L278.5 3 L280.6 5.6 Z M287.4 12.4 L290 14.5 L287.4 16.6 Z" fill="#4d4d4d"/>
<path d="M277 11.6 C279.6 10.6 281.2 6.2 283.2 6.2 C285 6.2 286.4 9.4 289 10.2" stroke="#1c9a1c" stroke-width="1.3" fill="none"/>
</g>
<g id="ic-zoomin">
<path d="M318.2 10.8 L322.9 15.5" stroke="#a07010" stroke-width="3.6" stroke-linecap="square"/>
<path d="M318.4 11 L322.8 15.4" stroke="#e8cc30" stroke-width="1.9" stroke-linecap="square"/>
<circle cx="314.2" cy="6.9" r="5.6" fill="url(#gLens)" stroke="#2c80d0" stroke-width="1.3"/>
<path d="M311.0 6.9 H317.4 M314.2 3.7 V10.1" stroke="#3c88b8" stroke-width="1.9" fill="none"/>
</g>
<g id="ic-zoomout">
<path d="M346.3 10.8 L351.0 15.5" stroke="#a07010" stroke-width="3.6" stroke-linecap="square"/>
<path d="M346.5 11 L350.90000000000003 15.4" stroke="#e8cc30" stroke-width="1.9" stroke-linecap="square"/>
<circle cx="342.3" cy="6.9" r="5.6" fill="url(#gLens)" stroke="#2c80d0" stroke-width="1.3"/>
<path d="M339.1 6.9 H345.5" stroke="#3c88b8" stroke-width="1.9" fill="none"/>
</g>
<g id="ic-tile" shape-rendering="crispEdges">
<rect x="364" y="1" width="8" height="8" fill="#3c9c1c"/>
<rect x="365" y="4" width="6" height="4" fill="#fff"/>
<rect x="366" y="7" width="4" height="1" fill="#3c9c1c"/>
<rect x="366" y="5" width="4" height="1" fill="#a8dc90"/>
<rect x="365" y="2" width="1" height="1" fill="#e0f0ff"/>
<rect x="372" y="1" width="8" height="8" fill="#2a54c8"/>
<rect x="373" y="4" width="6" height="4" fill="#fff"/>
<rect x="374" y="7" width="4" height="1" fill="#2a54c8"/>
<rect x="374" y="5" width="4" height="1" fill="#a0b4f0"/>
<rect x="373" y="2" width="1" height="1" fill="#e0f0ff"/>
<rect x="364" y="9" width="8" height="8" fill="#2a54c8"/>
<rect x="365" y="12" width="6" height="4" fill="#fff"/>
<rect x="366" y="15" width="4" height="1" fill="#2a54c8"/>
<rect x="366" y="13" width="4" height="1" fill="#a0b4f0"/>
<rect x="365" y="10" width="1" height="1" fill="#e0f0ff"/>
<rect x="372" y="9" width="8" height="8" fill="#3c9c1c"/>
<rect x="373" y="12" width="6" height="4" fill="#fff"/>
<rect x="374" y="15" width="4" height="1" fill="#3c9c1c"/>
<rect x="374" y="13" width="4" height="1" fill="#a8dc90"/>
<rect x="373" y="10" width="1" height="1" fill="#e0f0ff"/>
</g>
<g id="ic-autoscroll">
<path d="M402.5 4 V16.6 M400 14.5 H413" stroke="#4d4d4d" stroke-width="1.3" fill="none"/>
<path d="M400.4 5.6 L402.5 3 L404.6 5.6 Z M411.4 12.4 L414 14.5 L411.4 16.6 Z" fill="#4d4d4d"/>
<path d="M407.3 5.4 L410.8 8.5 L407.3 11.6 Z" fill="#b8ecb8" stroke="#18a018" stroke-width="1" stroke-linejoin="round"/>
</g>
<g id="ic-shift">
<path d="M430.5 4 V16.6 M428 14.5 H441" stroke="#4d4d4d" stroke-width="1.3" fill="none"/>
<path d="M428.4 5.6 L430.5 3 L432.6 5.6 Z M439.4 12.4 L442 14.5 L439.4 16.6 Z" fill="#4d4d4d"/>
<path d="M436.5 3 V12.8" stroke="#1878b8" stroke-width="1.3"/>
<path d="M437.4 8.5 H442" stroke="#d04000" stroke-width="1.1"/>
<path d="M437.2 8.5 L440.4 6.2 L439.8 8.5 L440.4 10.8 Z" fill="#d84000"/>
</g>
<g id="ic-indic">
<path d="M461.5 2.5 Q461.5 1.5 462.5 1.5 H469.5 L472.5 4.5 V13.5 Q472.5 14.5 471.5 14.5 H462.5 Q461.5 14.5 461.5 13.5 Z" fill="#fdfdfd" stroke="#8c8c8c" stroke-width="1"/>
<path d="M469.5 1.5 V4.5 H472.5" fill="#e4e4e4" stroke="#8c8c8c" stroke-width="0.8"/>
<path d="M466.4 4.6 C465 4.2 464.4 5 464.4 6.4 V11.4 M463.2 7.4 H466" stroke="#5a5040" stroke-width="1" fill="none"/>
<path d="M469.5 7.5 H472.5 V11.5 H476.5 V14.5 H472.5 V18.5 H469.5 V14.5 H465.5 V11.5 H469.5 Z" fill="url(#gPlus)" stroke="#0a8a0a" stroke-width="1"/>
</g>
<g shape-rendering="crispEdges" fill="#000">
<rect x="483" y="8" width="5" height="1" fill="#000"/>
<rect x="484" y="9" width="3" height="1" fill="#000"/>
<rect x="485" y="10" width="1" height="1" fill="#000"/>
<rect x="522" y="8" width="5" height="1" fill="#000"/>
<rect x="523" y="9" width="3" height="1" fill="#000"/>
<rect x="524" y="10" width="1" height="1" fill="#000"/>
<rect x="561" y="8" width="5" height="1" fill="#000"/>
<rect x="562" y="9" width="3" height="1" fill="#000"/>
<rect x="563" y="10" width="1" height="1" fill="#000"/>
<rect x="867" y="8" width="5" height="1" fill="#000"/>
<rect x="868" y="9" width="3" height="1" fill="#000"/>
<rect x="869" y="10" width="1" height="1" fill="#000"/>
</g>
<g id="ic-clock">
<circle cx="507" cy="8.8" r="7.9" fill="url(#gClock)"/>
<path d="M500.6 6.6 A6.9 6.9 0 0 1 510.4 2.8" stroke="#58b0ff" stroke-width="1.2" fill="none" opacity="0.8"/>
<circle cx="507" cy="8.8" r="5.4" fill="#fafafa" stroke="#083c90" stroke-width="0.6"/>
<g stroke="#585858" stroke-width="0.8"><path d="M507 3.9 V4.9 M511 8.8 H512 M502 8.8 H503 M503.5 5.3 L504.2 6 M510.5 5.3 L509.8 6 M503.5 12.3 L504.2 11.6 M510.5 12.3 L509.8 11.6 M504.8 4.4 L505.1 5 M509.2 4.4 L508.9 5"/></g>
<path d="M506.4 4.8 V8.9 L509.6 9.5" stroke="#202020" stroke-width="1.2" fill="none"/>
<path d="M506 12.7 H508" stroke="#58a0f8" stroke-width="0.8"/>
</g>
<g id="ic-tpl">
<rect x="538.5" y="2.5" width="15" height="13" fill="#ffffff" stroke="#3470be" stroke-width="1"/>
<rect x="539" y="3" width="14" height="2.2" fill="url(#gTpl)"/>
<path d="M539 10.4 H553 M539 15 H553" stroke="#3a78c4" stroke-width="0.9"/>
<path d="M540.2 8.4 H542 L543.2 7.4 H544.4 L545.4 6.4 H546.6 L547.6 7.4 H549.4 L550.6 6.4 H551.8" stroke="#961808" stroke-width="1.1" fill="none" stroke-dasharray="1.6 0.5"/>
<path d="M541 13.6 H542 L543 12.6 H544 L545 13.6 H546.2 L548.4 11.4 H549.4 L551.8 13.8" stroke="#0c8018" stroke-width="1.1" fill="none" stroke-dasharray="1.6 0.5"/>
</g>
<g id="ic-cursor"><path d="M590.2 2 L590.2 13.2 L592.8 10.8 L595.2 16 L597 15.2 L594.7 10.2 L598 9.6 Z" fill="#4a4a4a"/></g>
<g id="ic-cross" shape-rendering="crispEdges">
<rect x="622" y="2" width="1" height="6" fill="#4d4d4d"/>
<rect x="622" y="11" width="1" height="6" fill="#4d4d4d"/>
<rect x="615" y="9" width="6" height="1" fill="#4d4d4d"/>
<rect x="624" y="9" width="6" height="1" fill="#4d4d4d"/>
<rect x="622" y="9" width="1" height="1" fill="#8a8a8a"/>
<rect x="656" y="3" width="1" height="13" fill="#4d4d4d"/>
<rect x="679" y="9" width="12" height="1" fill="#4d4d4d"/>
</g>
<path d="M706.8 15.9 L719 4.1" stroke="#4d4d4d" stroke-width="1.2"/>
<g id="ic-channel">
<path d="M732.8 11 L741.6 3 M733.6 15.4 L746.8 3.6 M738 16.2 L747.6 7.6" stroke="#4d4d4d" stroke-width="1" fill="none"/>
<path d="M736.4 8 L735.4 13.6 M739.2 5.6 L738.2 12 M742 4.4 L741 10.4 M744.8 1.2 L744 8.8" stroke="#4d4d4d" stroke-width="0.9" fill="none"/>
<g shape-rendering="crispEdges">
<rect x="744" y="13" width="4" height="1" fill="#3a3a3a"/>
<rect x="744" y="15" width="3" height="1" fill="#3a3a3a"/>
<rect x="744" y="17" width="4" height="1" fill="#3a3a3a"/>
<rect x="744" y="13" width="1" height="5" fill="#3a3a3a"/>
</g></g>
<g id="ic-fibo" shape-rendering="crispEdges">
<rect x="762" y="2" width="1" height="1" fill="#4d4d4d"/>
<rect x="764" y="2" width="1" height="1" fill="#4d4d4d"/>
<rect x="766" y="2" width="1" height="1" fill="#4d4d4d"/>
<rect x="768" y="2" width="1" height="1" fill="#4d4d4d"/>
<rect x="770" y="2" width="1" height="1" fill="#4d4d4d"/>
<rect x="772" y="2" width="1" height="1" fill="#4d4d4d"/>
<rect x="774" y="2" width="1" height="1" fill="#4d4d4d"/>
<rect x="762" y="5" width="1" height="1" fill="#4d4d4d"/>
<rect x="764" y="5" width="1" height="1" fill="#4d4d4d"/>
<rect x="766" y="5" width="1" height="1" fill="#4d4d4d"/>
<rect x="768" y="5" width="1" height="1" fill="#4d4d4d"/>
<rect x="770" y="5" width="1" height="1" fill="#4d4d4d"/>
<rect x="772" y="5" width="1" height="1" fill="#4d4d4d"/>
<rect x="774" y="5" width="1" height="1" fill="#4d4d4d"/>
<rect x="762" y="9" width="1" height="1" fill="#4d4d4d"/>
<rect x="764" y="9" width="1" height="1" fill="#4d4d4d"/>
<rect x="766" y="9" width="1" height="1" fill="#4d4d4d"/>
<rect x="768" y="9" width="1" height="1" fill="#4d4d4d"/>
<rect x="770" y="9" width="1" height="1" fill="#4d4d4d"/>
<rect x="772" y="9" width="1" height="1" fill="#4d4d4d"/>
<rect x="774" y="9" width="1" height="1" fill="#4d4d4d"/>
<rect x="762" y="13" width="1" height="1" fill="#4d4d4d"/>
<rect x="764" y="13" width="1" height="1" fill="#4d4d4d"/>
<rect x="766" y="13" width="1" height="1" fill="#4d4d4d"/>
<rect x="768" y="13" width="1" height="1" fill="#4d4d4d"/>
<rect x="771" y="13" width="4" height="1" fill="#3a3a3a"/>
<rect x="771" y="15" width="3" height="1" fill="#3a3a3a"/>
<rect x="771" y="13" width="1" height="5" fill="#3a3a3a"/>
</g>
<g font-family='"Liberation Sans", sans-serif' fill="#4a4a4a" text-rendering="geometricPrecision">
<text x="792.4" y="13.9" font-size="12.2" stroke="#4a4a4a" stroke-width="0.3">A</text>
<text x="821.2" y="13.6" font-size="11.4" stroke="#4a4a4a" stroke-width="0.3">T</text>
</g>
<g shape-rendering="crispEdges">
<rect x="819" y="3" width="1" height="1" fill="#4d4d4d"/>
<rect x="819" y="15" width="1" height="1" fill="#4d4d4d"/>
<rect x="821" y="3" width="1" height="1" fill="#4d4d4d"/>
<rect x="821" y="15" width="1" height="1" fill="#4d4d4d"/>
<rect x="823" y="3" width="1" height="1" fill="#4d4d4d"/>
<rect x="823" y="15" width="1" height="1" fill="#4d4d4d"/>
<rect x="825" y="3" width="1" height="1" fill="#4d4d4d"/>
<rect x="825" y="15" width="1" height="1" fill="#4d4d4d"/>
<rect x="827" y="3" width="1" height="1" fill="#4d4d4d"/>
<rect x="827" y="15" width="1" height="1" fill="#4d4d4d"/>
<rect x="829" y="3" width="1" height="1" fill="#4d4d4d"/>
<rect x="829" y="15" width="1" height="1" fill="#4d4d4d"/>
<rect x="819" y="3" width="1" height="1" fill="#4d4d4d"/>
<rect x="819" y="5" width="1" height="1" fill="#4d4d4d"/>
<rect x="819" y="7" width="1" height="1" fill="#4d4d4d"/>
<rect x="819" y="9" width="1" height="1" fill="#4d4d4d"/>
<rect x="819" y="11" width="1" height="1" fill="#4d4d4d"/>
<rect x="819" y="13" width="1" height="1" fill="#4d4d4d"/>
<rect x="819" y="15" width="1" height="1" fill="#4d4d4d"/>
<rect x="830" y="5" width="1" height="1" fill="#4d4d4d"/>
<rect x="830" y="7" width="1" height="1" fill="#4d4d4d"/>
<rect x="830" y="9" width="1" height="1" fill="#4d4d4d"/>
<rect x="830" y="11" width="1" height="1" fill="#4d4d4d"/>
<rect x="830" y="13" width="1" height="1" fill="#4d4d4d"/>
<rect x="818" y="2" width="2" height="1" fill="#4d4d4d"/>
</g>
<g id="ic-arrows">
<path d="M846.4 5.6 L849.4 2.8 L852.4 5.6 L849.4 7.2 Z" fill="#4d4d4d"/>
<path d="M853.6 13 L856.6 11.4 L859.8 13 L856.6 16 Z" fill="#4d4d4d"/>
<path d="M848.6 10 L850.6 12 L855 7.4" stroke="#4d4d4d" stroke-width="1.3" fill="none"/>
</g>
<g id="ic-search">
<path d="M1606.6 9.2 L1601.9 14.1" stroke="#1c4cc4" stroke-width="2.6" stroke-linecap="butt"/>
<circle cx="1609.6" cy="6.3" r="3.9" fill="#f6f6ff" stroke="#2a5cd0" stroke-width="1.3"/>
</g>
<g id="ic-chat">
<path d="M1626.6 10.4 C1626.6 7.4 1629.6 6.2 1633.4 6.2 C1637.4 6.2 1640.6 7.6 1640.6 10.6 C1640.6 13.4 1637.6 14.8 1634 14.8 C1632.8 14.8 1631.8 14.7 1631 14.5 L1629.4 17.6 L1629 14 C1627.4 13.2 1626.6 12 1626.6 10.4 Z" fill="#dcdce8" stroke="#a4a4a8" stroke-width="0.8"/>
<path d="M1628 9.4 C1628.6 7.6 1631 7 1633.6 7 C1636 7 1638.4 7.6 1639.4 9 Z" fill="#f8f8fc"/>
<circle cx="1640.4" cy="6.6" r="8.3" fill="url(#gBadge)"/>
<text x="1640.3" y="11.2" font-family='"DejaVu Sans", sans-serif' font-size="12.8" fill="#fff" stroke="#fff" stroke-width="0.55" text-anchor="middle">1</text>
</g>
</g>
</svg>
</body>
</html>
